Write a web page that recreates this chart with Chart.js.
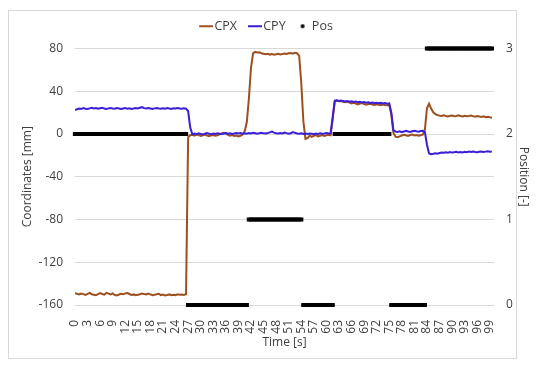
<!DOCTYPE html>
<html>
<head>
<meta charset="utf-8">
<script src="https://cdn.jsdelivr.net/npm/chart.js@4.4.1/dist/chart.umd.min.js"></script>
<style>
  html, body { margin: 0; padding: 0; background: #fff; }
  #wrap { position: relative; width: 550px; height: 370px; }
  #frame { position: absolute; left: 8px; top: 10px; width: 507px; height: 347px; border: 1px solid #d9d9d9; }
  canvas { position: absolute; left: 0; top: 0; }
</style>
</head>
<body>
<div id="wrap"><div id="frame"></div><canvas id="c" width="550" height="370"></canvas></div>
<script>
// Time [s]
const time = [
0,0.5,1,1.5,2,2.5,3,3.5,4,4.5,5,5.5,6,6.5,7,7.5,8,8.5,9,9.5,
10,10.5,11,11.5,12,12.5,13,13.5,14,14.5,15,15.5,16,16.5,17,17.5,18,18.5,19,19.5,
20,20.5,21,21.5,22,22.5,23,23.5,24,24.5,25,25.5,26,26.5,27,27.5,28,28.5,29,29.5,
30,30.5,31,31.5,32,32.5,33,33.5,34,34.5,35,35.5,36,36.5,37,37.5,38,38.5,39,39.5,
40,40.5,41,41.5,42,42.5,43,43.5,44,44.5,45,45.5,46,46.5,47,47.5,48,48.5,49,49.5,
50,50.5,51,51.5,52,52.5,53,53.5,54,54.5,55,55.5,56,56.5,57,57.5,58,58.5,59,59.5,
60,60.5,61,61.5,62,62.5,63,63.5,64,64.5,65,65.5,66,66.5,67,67.5,68,68.5,69,69.5,
70,70.5,71,71.5,72,72.5,73,73.5,74,74.5,75,75.5,76,76.5,77,77.5,78,78.5,79,79.5,
80,80.5,81,81.5,82,82.5,83,83.5,84,84.5,85,85.5,86,86.5,87,87.5,88,88.5,89,89.5,
90,90.5,91,91.5,92,92.5,93,93.5,94,94.5,95,95.5,96,96.5,97,97.5,98,98.5,99,99.5
];
// CPX [mm]
const cpx = [
-149.0,-149.5,-150.2,-149.3,-149.8,-150.5,-149.6,-148.7,-149.9,-150.4,
-150.9,-149.8,-148.9,-149.7,-150.3,-148.6,-149.4,-150.1,-149.2,-150.6,
-151.0,-150.2,-149.5,-150.0,-149.1,-148.8,-149.7,-150.6,-150.1,-150.9,
-150.4,-149.9,-149.3,-149.8,-150.2,-149.4,-150.1,-150.8,-150.5,-149.9,
-149.6,-150.7,-150.2,-151.0,-150.6,-150.1,-150.9,-150.4,-150.8,-150.0,
-150.5,-150.2,-150.6,-149.8,
-3.0,-1.2,-0.8,-1.5,-0.6,-1.0,-1.8,-1.2,-0.5,-1.4,-2.0,-1.3,-0.9,-1.6,-1.1,-0.4,0.6,1.2,0.3,-0.8,-1.5,-1.0,-1.9,-1.4,-2.2,-1.6,-0.5,
2.5,11,33,62,75.5,
76.8,76.2,76.5,75.6,75.1,74.6,75.0,74.3,74.8,74.2,74.6,75.1,74.5,74.9,75.3,74.8,75.5,75.8,75.2,76.0,75.6,
73,48,12,-4.5,-3.8,
-1.5,-2.6,-1.8,-1.1,-2.2,-1.6,-1.0,-1.9,-1.3,-0.8,-1.2,
14,30.5,
31.2,30.6,30.9,30.2,29.8,30.3,29.5,28.6,29.2,28.4,27.6,28.5,28.9,28.1,27.4,28.0,28.3,27.6,27.2,27.8,27.4,27.0,27.5,27.1,26.8,27.2,
18,1.0,-2.5,
-3.0,-2.2,-1.4,-0.8,-1.2,-1.8,-1.0,-0.6,-1.3,-0.9,-1.5,-1.1,-0.7,
4,24,28.3,23.8,20.3,18.6,17.8,
17.2,16.8,17.5,16.9,16.4,17.0,17.3,16.7,16.9,17.4,16.8,16.5,17.1,16.6,16.9,17.3,16.7,16.2,16.8,16.4,16.0,16.5,15.8,16.2,15.6,15.3
];
// CPY [mm]
const cpy = [
22.4,23.1,23.8,23.5,24.2,23.7,23.4,24.0,24.5,23.9,24.3,23.6,24.1,24.6,23.8,23.5,24.0,24.4,23.9,23.6,
24.2,23.8,23.4,23.9,24.3,23.7,24.1,23.5,23.8,24.4,23.9,24.6,25.1,24.2,23.8,24.3,23.9,23.5,24.0,24.4,
23.8,23.6,24.1,23.7,24.3,23.9,23.5,24.0,23.8,24.2,23.9,23.6,24.1,23.8,
21.5,6.0,-0.3,0.4,-0.2,0.6,0.1,-0.4,0.3,0.8,0.2,-0.3,0.5,0.0,0.7,0.3,-0.2,0.4,0.9,0.3,0.6,0.1,0.5,1.0,0.4,0.8,0.3,
0.6,0.2,0.9,0.5,1.1,0.7,0.3,0.8,1.2,0.6,0.4,0.9,1.5,2.2,1.3,0.7,0.5,1.0,0.6,1.4,
0.8,0.3,0.7,1.8,1.1,0.5,0.2,0.6,0.1,0.4,0.0,0.5,0.3,-0.2,0.4,0.1,0.6,0.2,0.5,0.9,0.4,0.8,
16,31.3,
31.6,31.0,31.4,30.8,30.5,30.9,30.2,30.6,29.9,30.3,29.7,30.1,29.5,29.9,29.3,29.6,29.0,29.4,28.8,29.3,28.7,29.1,28.6,28.9,28.4,28.7,
20,3.5,2.4,
2.0,2.6,1.8,2.3,2.9,2.4,1.9,2.5,3.1,2.6,2.2,2.8,3.0,
2.0,-10,-18.3,-18.9,-18.5,-18.0,-18.4,
-17.8,-17.3,-17.6,-17.1,-17.5,-16.9,-17.4,-17.0,-16.6,-17.2,-16.8,-17.3,-16.7,-17.0,-16.5,-16.9,-16.4,-16.8,-17.1,-16.6,-16.3,-16.8,-16.5,-16.2,-16.6,-16.4
];
// Position [-]
const pos = [
2,2,2,2,2,2,2,2,2,2,2,2,2,2,2,2,2,2,2,2,
2,2,2,2,2,2,2,2,2,2,2,2,2,2,2,2,2,2,2,2,
2,2,2,2,2,2,2,2,2,2,2,2,2,2,
0,0,0,0,0,0,0,0,0,0,0,0,0,0,0,0,0,0,0,0,0,0,0,0,0,0,0,0,0,
1,1,1,1,1,1,1,1,1,1,1,1,1,1,1,1,1,1,1,1,1,1,1,1,1,1,
0,0,0,0,0,0,0,0,0,0,0,0,0,0,0,
2,2,2,2,2,2,2,2,2,2,2,2,2,2,2,2,2,2,2,2,2,2,2,2,2,2,2,
0,0,0,0,0,0,0,0,0,0,0,0,0,0,0,0,0,
3,3,3,3,3,3,3,3,3,3,3,3,3,3,3,3,3,3,3,3,3,3,3,3,3,3,3,3,3,3,3,3
];
const timeTicks = [0,3,6,9,12,15,18,21,24,27,30,33,36,39,42,45,48,51,54,57,60,63,66,69,72,75,78,81,84,87,90,93,96,99];
const seriesNames = ['CPX', 'CPY', 'Pos'];

const colCPX = '#9E4F1F';
const colCPY = '#3A1ED8';
const txt = '#404040';

function lineIcon(color) {
  const c = document.createElement('canvas');
  c.width = 20; c.height = 4;
  const g = c.getContext('2d');
  g.fillStyle = color; g.fillRect(6, 1, 14, 2);
  return c;
}
function dotIcon(color) {
  const c = document.createElement('canvas');
  c.width = 20; c.height = 6;
  const g = c.getContext('2d');
  g.fillStyle = color; g.beginPath(); g.arc(12, 3, 2, 0, Math.PI * 2); g.fill();
  return c;
}
const legendIcons = [lineIcon(colCPX), lineIcon(colCPY), dotIcon('#000')];

Chart.defaults.font.family = "'Open Sans', 'Noto Sans', sans-serif";
Chart.defaults.font.size = 12;
Chart.defaults.color = txt;

const legendTweak = {
  id: 'legendTweak',
  beforeInit(chart) {
    const lg = chart.legend;
    if (lg) {
      const fit = lg.fit;
      lg.fit = function () { fit.call(this); this.height += 8; };
    }
  },
  afterLayout(chart) {
    const lg = chart.legend;
    if (lg) { lg.left -= 10; lg.right -= 10; lg.top += 2; lg.bottom += 2; }
  }
};

new Chart(document.getElementById('c'), {
  type: 'line',
  data: {
    datasets: [
      { label: seriesNames[0], data: time.map((t, i) => ({ x: t, y: cpx[i] })), borderColor: colCPX, backgroundColor: colCPX,
        borderWidth: 2, pointRadius: 0, tension: 0, yAxisID: 'y', order: 2 },
      { label: seriesNames[1], data: time.map((t, i) => ({ x: t, y: cpy[i] })), borderColor: colCPY, backgroundColor: colCPY,
        borderWidth: 2, pointRadius: 0, tension: 0, yAxisID: 'y', order: 1 },
      { label: seriesNames[2], data: time.map((t, i) => ({ x: t, y: pos[i] })), borderColor: '#000', backgroundColor: '#000',
        showLine: false, pointStyle: 'rect', pointRadius: 3, pointBorderWidth: 0, pointHoverRadius: 0, yAxisID: 'y2', order: 0, clip: 6 }
    ]
  },
  options: {
    responsive: false,
    animation: false,
    events: [],
    layout: { padding: { top: 8, left: 16, right: 15, bottom: 17 } },
    plugins: {
      tooltip: { enabled: false },
      legend: {
        position: 'top',
        labels: {
          usePointStyle: true,
          pointStyleWidth: 10,
          boxHeight: 12,
          padding: 10,
          color: txt,
          font: { size: 12.5 },
          sort: (a, b) => a.datasetIndex - b.datasetIndex,
          generateLabels(chart) {
            const items = Chart.defaults.plugins.legend.labels.generateLabels(chart);
            items.forEach(it => { it.pointStyle = legendIcons[it.datasetIndex]; });
            return items;
          }
        }
      }
    },
    scales: {
      x: {
        type: 'linear', min: 0, max: 100,
        grid: { display: false },
        border: { display: false },
        afterBuildTicks: s => { s.ticks = timeTicks.map(v => ({ value: v })); },
        afterFit: s => { s.height = 48; },
        ticks: { autoSkip: false, minRotation: 90, maxRotation: 90, padding: 7, color: txt },
        title: { display: true, text: 'Time [s]', color: txt, font: { size: 12 }, padding: { top: 4, bottom: 3 } }
      },
      y: {
        position: 'left', min: -160, max: 80,
        grid: { color: '#d9d9d9', drawTicks: false },
        border: { display: false },
        afterFit: s => { s.width = 59; },
        ticks: { stepSize: 40, padding: 12, color: txt },
        title: { display: true, text: 'Coordinates [mm]', color: txt, font: { size: 12 }, padding: { top: 4, bottom: 4 } }
      },
      y2: {
        position: 'right', min: 0, max: 3,
        grid: { display: false, drawTicks: false },
        border: { display: false },
        afterFit: s => { s.width = 41; },
        ticks: { stepSize: 1, padding: 12, color: txt },
        title: { display: true, text: 'Position [-]', color: txt, font: { size: 12 }, padding: { top: 4, bottom: 4 } }
      }
    }
  },
  plugins: [legendTweak]
});
</script>
</body>
</html>
